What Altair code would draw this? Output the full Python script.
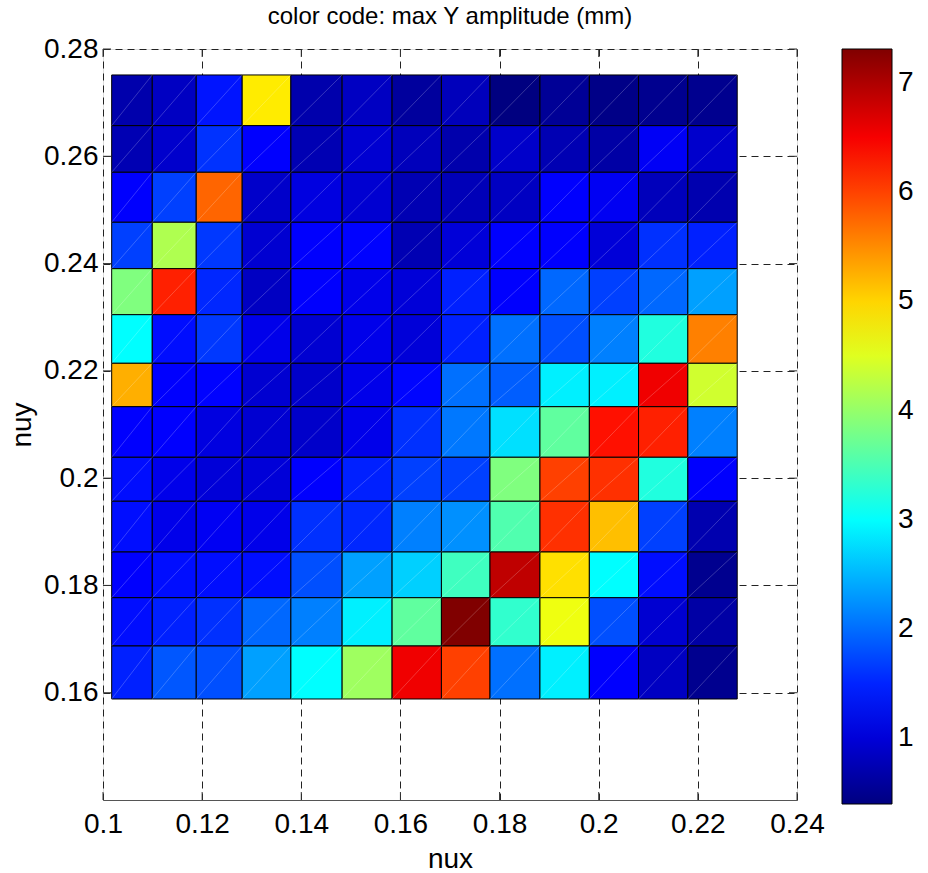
import altair as alt
import pandas as pd

# cell edges (nux along x, nuy along y, top to bottom)
nux_edges = [0.10175, 0.10994, 0.11881, 0.12808, 0.13790, 0.14824, 0.15832,
             0.16827, 0.17807, 0.18815, 0.19811, 0.20804, 0.21798, 0.22794]
nuy_edges = [0.27516, 0.26571, 0.25702, 0.24770, 0.23905, 0.23047, 0.22141,
             0.21332, 0.20389, 0.19569, 0.18623, 0.17771, 0.16871, 0.15883]

# max Y amplitude (mm), one list per row, top row first
amp_r00 = [0.70, 0.85, 1.40, 4.85, 0.70, 0.85, 0.60, 0.80, 0.40, 0.55, 0.45, 0.50, 0.50]
amp_r01 = [0.75, 0.92, 1.60, 1.26, 0.75, 0.95, 0.80, 0.70, 0.90, 0.75, 0.65, 1.20, 0.92]
amp_r02 = [1.26, 1.70, 5.76, 0.90, 1.05, 0.95, 0.75, 0.78, 0.85, 1.26, 1.18, 0.80, 0.72]
amp_r03 = [1.70, 4.18, 1.64, 0.95, 1.26, 1.28, 0.75, 1.00, 1.26, 1.26, 1.00, 1.59, 1.48]
amp_r04 = [3.86, 6.23, 1.53, 0.85, 1.26, 1.12, 1.00, 1.48, 1.26, 1.97, 1.70, 1.97, 2.35]
amp_r05 = [2.99, 1.35, 1.64, 1.12, 0.95, 1.12, 1.00, 1.48, 2.02, 1.80, 2.13, 3.21, 5.58]
amp_r06 = [5.26, 1.26, 1.28, 0.95, 0.90, 1.12, 1.30, 2.02, 1.90, 2.89, 2.89, 6.55, 4.40]
amp_r07 = [1.26, 1.26, 1.05, 0.95, 0.90, 1.12, 1.59, 2.08, 2.78, 3.64, 6.34, 6.23, 2.13]
amp_r08 = [1.35, 1.12, 1.00, 1.00, 1.26, 1.48, 1.70, 1.70, 3.86, 6.01, 6.12, 3.21, 1.26]
amp_r09 = [1.35, 1.12, 1.18, 1.12, 1.59, 1.53, 2.13, 2.24, 3.53, 6.12, 5.15, 1.70, 0.72]
amp_r10 = [1.26, 1.35, 1.35, 1.35, 1.80, 2.35, 2.67, 3.42, 6.88, 4.93, 2.99, 1.35, 0.50]
amp_r11 = [1.35, 1.48, 1.59, 1.97, 2.13, 2.89, 3.64, 7.31, 3.32, 4.61, 1.80, 0.95, 0.65]
amp_r12 = [1.48, 1.85, 1.80, 2.35, 2.99, 4.07, 6.55, 6.01, 2.02, 2.89, 1.26, 0.85, 0.50]
amp_rows = [amp_r00, amp_r01, amp_r02, amp_r03, amp_r04, amp_r05, amp_r06,
            amp_r07, amp_r08, amp_r09, amp_r10, amp_r11, amp_r12]

x_ticks = [0.10, 0.12, 0.14, 0.16, 0.18, 0.20, 0.22, 0.24]
y_ticks = [0.16, 0.18, 0.20, 0.22, 0.24, 0.26, 0.28]
cbar_ticks = [1, 2, 3, 4, 5, 6, 7]
title_text = "color code: max Y amplitude (mm)"

# jet colormap on colour limits [0.40, 7.31]
cmin, cmax = 0.40, 7.31
jet_frac = [0, 1 / 8, 3 / 8, 5 / 8, 7 / 8, 1]
jet_cols = ["#000080", "#0000ff", "#00ffff", "#ffff00", "#ff0000", "#800000"]
jet_dom = [cmin + f * (cmax - cmin) for f in jet_frac]

recs = []
for i, row in enumerate(amp_rows):
    for j, v in enumerate(row):
        recs.append({"x0": nux_edges[j], "x1": nux_edges[j + 1],
                     "y0": nuy_edges[i + 1], "y1": nuy_edges[i], "amp": v})
df = pd.DataFrame(recs)
xt = pd.DataFrame({"t": x_ticks})
yt = pd.DataFrame({"t": y_ticks})

W, H = 694, 751
FONT = "Liberation Sans Narrow, Arial Narrow, Liberation Sans"
TFONT = "Liberation Sans"
LS = 28
TL = 8

xscale = alt.Scale(domain=[0.10, 0.24], nice=False, zero=False)
yscale = alt.Scale(domain=[0.14, 0.28], nice=False, zero=False)

X_AXIS = alt.Axis(values=x_ticks, format=".2~f", grid=True, gridDash=[7, 5],
                  gridColor="#222", gridWidth=1, ticks=False, tickSize=0,
                  domain=True, domainColor="#555", domainWidth=1,
                  labelFont=FONT, labelFontSize=LS, labelColor="black",
                  labelPadding=10, labelFlush=False, titleFont=FONT, titleFontSize=28,
                  titleFontWeight="normal", titleColor="black", titlePadding=7)
Y_AXIS = alt.Axis(values=y_ticks, format=".2~f", grid=True, gridDash=[7, 5],
                  gridColor="#222", gridWidth=1, ticks=False, tickSize=0,
                  domain=False, labelFont=FONT, labelFontSize=LS,
                  labelColor="black", labelPadding=5, labelFlush=False,
                  titleFont=FONT, titleFontSize=28, titleFontWeight="normal",
                  titleColor="black", titlePadding=7)

cells = alt.Chart(df).mark_rect(stroke="black", strokeWidth=1).encode(
    x=alt.X("x0:Q", scale=xscale, title="nux", axis=X_AXIS),
    x2="x1:Q",
    y=alt.Y("y0:Q", scale=yscale, title="nuy", axis=Y_AXIS),
    y2="y1:Q",
    color=alt.Color("amp:Q",
                    scale=alt.Scale(domain=jet_dom, range=jet_cols, interpolate="rgb"),
                    legend=alt.Legend(orient="none", legendX=739, legendY=0,
                                      direction="vertical", title=None, format="d",
                                      gradientLength=755, gradientThickness=50,
                                      gradientStrokeColor="black", gradientStrokeWidth=1,
                                      values=cbar_ticks, labelFont=FONT, labelFontSize=LS,
                                      labelColor="black", labelOffset=6)),
)

diag = alt.Chart(df).mark_rule(color="white", opacity=0.3, strokeWidth=0.7).encode(
    x=alt.X("x0:Q", scale=xscale, title="nux", axis=X_AXIS), x2="x1:Q",
    y=alt.Y("y0:Q", scale=yscale, title="nuy", axis=Y_AXIS), y2="y1:Q",
)

tick_style = dict(color="#333", strokeWidth=1)
xb = alt.Chart(xt).mark_rule(**tick_style).encode(
    x=alt.X("t:Q", scale=xscale, title="nux", axis=X_AXIS),
    y=alt.value(H), y2=alt.value(H - TL))
xtop = alt.Chart(xt).mark_rule(**tick_style).encode(
    x=alt.X("t:Q", scale=xscale, title="nux", axis=X_AXIS),
    y=alt.value(0), y2=alt.value(TL))
yl = alt.Chart(yt).mark_rule(**tick_style).encode(
    y=alt.Y("t:Q", scale=yscale, title="nuy", axis=Y_AXIS),
    x=alt.value(0), x2=alt.value(TL))
yr = alt.Chart(yt).mark_rule(**tick_style).encode(
    y=alt.Y("t:Q", scale=yscale, title="nuy", axis=Y_AXIS),
    x=alt.value(W - TL), x2=alt.value(W))

title_mark = alt.Chart(pd.DataFrame({"s": [title_text]})).mark_text(
    font=TFONT, fontSize=24, color="black", align="center", baseline="alphabetic"
).encode(text="s:N", x=alt.value(W / 2), y=alt.value(-25.5))

chart = alt.layer(cells, diag, xb, xtop, yl, yr, title_mark).properties(
    width=W, height=H,
    padding={"left": 103, "top": 49, "right": 131, "bottom": 73},
    autosize=alt.AutoSizeParams(type="none"),
).configure_view(stroke=None).configure(background="white")

chart.save("out.html", embed_options={"renderer": "svg", "actions": False})
